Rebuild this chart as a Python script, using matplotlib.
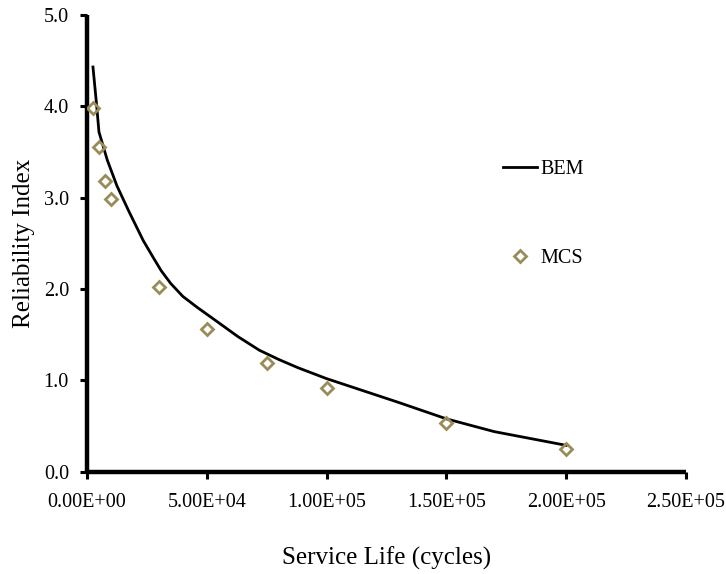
import matplotlib
matplotlib.use("Agg")
import matplotlib.pyplot as plt
from matplotlib.ticker import FuncFormatter

plt.rcParams['font.family'] = ['Liberation Serif', 'DejaVu Serif']

# BEM curve
bem_x = [2500, 4000, 5000, 8500, 12500, 17500, 23500, 28000, 31000, 35000,
         40000, 46000, 54000, 63000, 72000, 80000, 88000, 100000, 115000,
         130000, 150000, 170000, 200000]
bem_y = [4.43, 4.02, 3.72, 3.41, 3.13, 2.85, 2.53, 2.33, 2.20, 2.06,
         1.92, 1.80, 1.65, 1.48, 1.33, 1.23, 1.14, 1.02, 0.89,
         0.76, 0.58, 0.44, 0.29]

# MCS points
mcs_x = [2500, 5000, 7500, 10000, 30000, 50000, 75000, 100000, 150000, 200000]
mcs_y = [3.98, 3.56, 3.18, 2.99, 2.02, 1.56, 1.19, 0.92, 0.53, 0.25]

x_ticks = [0, 50000, 100000, 150000, 200000, 250000]
y_ticks = [0.0, 1.0, 2.0, 3.0, 4.0, 5.0]

fig = plt.figure(figsize=(7.26, 5.74), dpi=100)
ax = fig.add_axes([0.1198, 0.178, 0.825, 0.796])

ax.plot(bem_x, bem_y, color='black', lw=2.0, label='BEM', zorder=3,
        solid_joinstyle='round')
ax.plot(mcs_x, mcs_y, ls='none', marker='D', markersize=6.5,
        markerfacecolor='none', markeredgecolor='#9A8C58', markeredgewidth=2.0,
        label='MCS', zorder=4)

ax.set_xlim(0, 250000)
ax.set_ylim(0, 5.0)
ax.set_xticks(x_ticks)
ax.set_yticks(y_ticks)

ax.xaxis.set_major_formatter(FuncFormatter(lambda v, p: "%.2E" % v))
ax.yaxis.set_major_formatter(FuncFormatter(lambda v, p: "%.1f" % v))

for s in ['top', 'right']:
    ax.spines[s].set_visible(False)
for s in ['left', 'bottom']:
    ax.spines[s].set_linewidth(3.2)
    ax.spines[s].set_color('black')
    ax.spines[s].set_capstyle('butt')

ax.tick_params(axis='both', direction='out', length=5, width=2.2,
               labelsize=14.5, colors='black')
ax.tick_params(axis='x', pad=10)
ax.tick_params(axis='y', pad=8)

ax.set_xlabel('Service Life (cycles)', fontsize=18, labelpad=25)
ax.set_ylabel('Reliability Index', fontsize=18, labelpad=6)

leg = ax.legend(loc='center left', bbox_to_anchor=(0.681, 0.564), frameon=False,
                fontsize=14.5, labelspacing=3.5, handlelength=1.69,
                handletextpad=0.15, borderaxespad=0)

fig.savefig('out.png', dpi=100)
